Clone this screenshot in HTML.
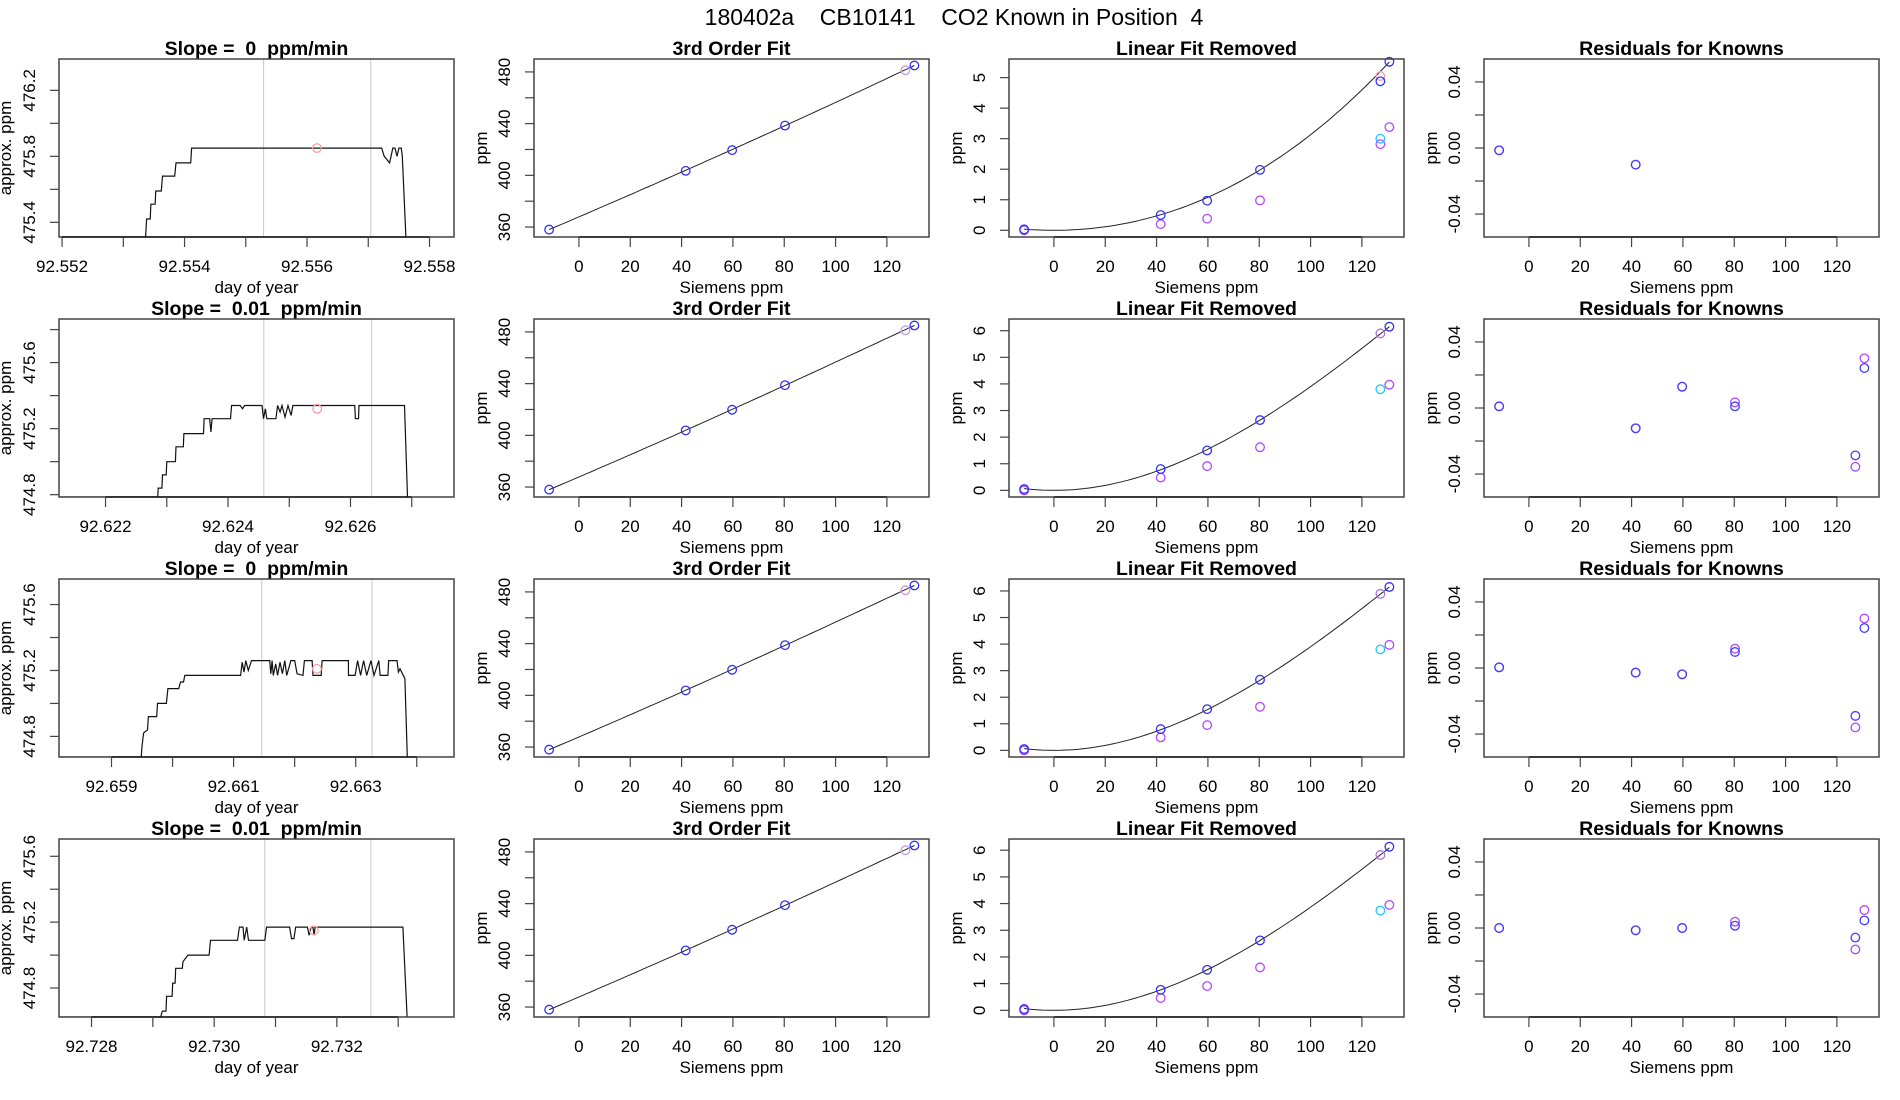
<!DOCTYPE html>
<html><head><meta charset="utf-8"><title>CO2 Known in Position 4</title>
<style>
html,body{margin:0;padding:0;background:#fff;}
svg{display:block;font-family:"Liberation Sans",Arial,sans-serif;}
text{white-space:pre;}
</style></head>
<body>
<svg id="fig" width="1900" height="1100" viewBox="0 0 1900 1100" xmlns="http://www.w3.org/2000/svg">
<rect width="1900" height="1100" fill="#fff"/>
<text x="954" y="25" font-size="23" text-anchor="middle" fill="#000">180402a    CB10141    CO2 Known in Position  4</text>
</svg>
<script>
// ---------- data ----------
const slopeLabels = ["0", "0.01", "0", "0.01"];
const timeBase = [92.552, 92.622, 92.659, 92.728];
const timeLim = [[92.55195, 92.5584], [92.62124, 92.62769], [92.65814, 92.66461], [92.72747, 92.73391]];
const timeTicks = [
  [92.552, 92.553, 92.554, 92.555, 92.556, 92.557, 92.558],
  [92.622, 92.623, 92.624, 92.625, 92.626, 92.627],
  [92.659, 92.660, 92.661, 92.662, 92.663, 92.664],
  [92.728, 92.729, 92.730, 92.731, 92.732, 92.733]];
const timeTickLabels = [
  ["92.552", "", "92.554", "", "92.556", "", "92.558"],
  ["92.622", "", "92.624", "", "92.626", ""],
  ["92.659", "", "92.661", "", "92.663", ""],
  ["92.728", "", "92.730", "", "92.732", ""]];
const concLim = [[475.311, 476.39], [474.786, 475.864], [474.675, 475.755], [474.624, 475.705]];
const concTicks = [
  [475.4, 475.6, 475.8, 476.0, 476.2],
  [474.8, 475.0, 475.2, 475.4, 475.6, 475.8],
  [474.8, 475.0, 475.2, 475.4, 475.6],
  [474.8, 475.0, 475.2, 475.4, 475.6]];
const concTickLabels = [
  ["475.4", "", "475.8", "", "476.2"],
  ["474.8", "", "475.2", "", "475.6", ""],
  ["474.8", "", "475.2", "", "475.6"],
  ["474.8", "", "475.2", "", "475.6"]];
// trace time offsets (1e-6 day from timeBase) and values
const traceT1 = [-200,1364,1380,1440,1450,1520,1530,1620,1640,1840,1860,2100,2116,5219,5260,5348,5400,5437,5470,5500,5540,5555,5614];
const traceV1 = [475.0,475.0,475.42,475.42,475.51,475.51,475.59,475.59,475.68,475.68,475.76,475.76,475.85,475.85,475.80,475.76,475.85,475.85,475.80,475.85,475.85,475.80,475.0];
const traceT2 = [-900,851,860,920,930,990,1000,1140,1150,1270,1280,1600,1610,1700,1720,1740,2040,2059,2200,2237,2270,2554,2580,2610,2634,2782,2810,2850,2881,2930,2980,3030,3060,4069,4080,4130,4139,4881,4931];
const traceV2 = [474.7,474.7,474.84,474.84,474.92,474.92,475.0,475.0,475.09,475.09,475.17,475.17,475.26,475.26,475.18,475.26,475.26,475.34,475.34,475.32,475.34,475.34,475.26,475.32,475.26,475.26,475.34,475.30,475.34,475.27,475.34,475.28,475.34,475.34,475.26,475.26,475.34,475.34,474.7];
const traceT3 = [-900,486,500,526,590,605,740,754,900,923,1100,1131,1180,1201,2114,2140,2170,2200,2240,2293,2591,2610,2630,2650,2690,2720,2760,2800,2839,2870,2938,3000,3040,3137,3160,3286,3300,3435,3450,3880,3882,3990,4031,4080,4130,4180,4250,4300,4378,4400,4527,4540,4676,4700,4725,4805,4845];
const traceV3 = [474.6,474.6,474.74,474.82,474.84,474.92,474.92,475.0,475.0,475.09,475.09,475.13,475.13,475.17,475.17,475.25,475.19,475.26,475.20,475.26,475.26,475.18,475.26,475.17,475.24,475.17,475.25,475.18,475.26,475.17,475.26,475.26,475.18,475.17,475.26,475.26,475.17,475.17,475.26,475.26,475.17,475.17,475.26,475.17,475.26,475.17,475.26,475.17,475.26,475.17,475.17,475.26,475.26,475.19,475.21,475.15,474.5];
const traceT4 = [-600,1127,1156,1215,1225,1314,1324,1363,1373,1480,1492,1571,1917,1940,2380,2411,2470,2490,2530,2559,2826,2855,3230,3260,3300,3329,3520,3547,3580,3610,3630,3645,5077,5146];
const traceV4 = [474.5,474.5,474.66,474.66,474.75,474.75,474.83,474.83,474.92,474.92,474.96,475.0,475.0,475.09,475.09,475.17,475.17,475.09,475.17,475.09,475.09,475.17,475.17,475.10,475.10,475.17,475.17,475.12,475.17,475.17,475.12,475.17,475.17,474.5];
const traceT = [traceT1, traceT2, traceT3, traceT4];
const traceV = [traceV1, traceV2, traceV3, traceV4];
const greyLineT = [[3291, 5041], [2584, 4346], [2461, 4267], [2826, 4555]];
const meanT = [4162, 3456, 3365, 3625];
const meanV = [475.85, 475.32, 475.21, 475.15];

// calibration data (Siemens ppm)
const sieX = [-11.6, 41.6, 59.7, 80.3, 127.2, 130.7];
const ppmY = [
  [358, 403.5, 419.5, 438.5, 481.3, 485],
  [358, 403.8, 419.8, 438.8, 481.3, 485],
  [358, 403.8, 419.8, 438.8, 481.3, 485],
  [358, 403.8, 419.8, 438.8, 481.3, 485]];
const linCoef = [[367.87, 0.854], [367.79, 0.8498], [367.79, 0.8498], [367.79, 0.8498]];
const curveCoef = [[0.000281, 3.19e-7], [0.000488, -9.79e-7], [0.000488, -9.79e-7], [0.000484, -9.75e-7]];
const ppmLim = [352.3, 490];
const ppmTicks = [360, 380, 400, 420, 440, 460, 480];
const ppmTickLabels = ["360", "", "400", "", "440", "", "480"];
const sieLim = [-17.5, 136.4];
const sieTicks = [0, 20, 40, 60, 80, 100, 120];

// linear fit removed
const lfrLim = [[-0.22, 5.61], [-0.25, 6.44], [-0.25, 6.45], [-0.25, 6.42]];
const lfrTicks = [[0, 1, 2, 3, 4, 5], [0, 1, 2, 3, 4, 5, 6], [0, 1, 2, 3, 4, 5, 6], [0, 1, 2, 3, 4, 5, 6]];
const lfrBlue = [[0.03, 0.5, 0.97, 1.98, 4.88, 5.52], [0.05, 0.8, 1.5, 2.64, null, 6.15], [0.05, 0.8, 1.55, 2.66, null, 6.15], [0.05, 0.77, 1.52, 2.62, null, 6.13]];
const lfrMag = [[0.0, 0.2, 0.38, 0.98, 2.82, 3.38], [0.0, 0.48, 0.91, 1.62, null, 3.97], [0.0, 0.49, 0.95, 1.64, null, 3.97], [0.0, 0.46, 0.91, 1.61, null, 3.95]];
const lfrLav = [5.05, 5.9, 5.89, 5.82];
const lfrCyan = [3.0, 3.8, 3.8, 3.74];

// residuals
const resLim = [-0.0539, 0.0539];
const resTicks = [-0.04, -0.02, 0, 0.02, 0.04];
const resTickLabels = ["-0.04", "", "0.00", "", "0.04"];
const resBlue = [[-0.0014, -0.0101, null, null, null, null],
  [0.001, -0.0123, 0.0129, 0.001, -0.0287, 0.0242],
  [0.0004, -0.0028, -0.0038, 0.0097, -0.029, 0.0242],
  [0.0, -0.0014, 0.0, 0.0014, -0.0058, 0.0046]];
const resMag = [[-0.0014, -0.0101, null, null, null, null],
  [0.001, -0.0123, 0.0129, 0.0034, -0.0356, 0.0301],
  [0.0004, -0.0028, -0.0038, 0.0117, -0.036, 0.030],
  [0.0, -0.0014, 0.0, 0.0038, -0.013, 0.0109]];

// ---------- drawing ----------
const NS = "http://www.w3.org/2000/svg";
const svg = document.getElementById("fig");
function mk(tag, attrs, parent) {
  const e = document.createElementNS(NS, tag);
  for (const k in attrs) e.setAttribute(k, attrs[k]);
  (parent || svg).appendChild(e);
  return e;
}
const BW = 395, BH = 178;
function scale(d0, d1, r0, r1) { return v => r0 + (v - d0) / (d1 - d0) * (r1 - r0); }

function panel(row, col, title, name) {
  const x0 = 59 + 475 * col, y0 = 59 + 260 * row;
  const g = mk("g", {});
  
  
  const t = mk("text", {x: x0 + BW / 2, y: y0 - 4, "font-size": 19.5, "font-weight": "bold", "text-anchor": "middle"}, g);
  t.textContent = title;
  
  
  const cp = mk("clipPath", {id: "cp" + row + "_" + col}, g);
  mk("rect", {x: x0, y: y0, width: BW, height: BH}, cp);
  return {g, x0, y0};
}
function frame(p) {
  const r = mk("rect", {x: p.x0, y: p.y0, width: BW, height: BH, fill: "none", stroke: "#444", "stroke-width": 1.5}, p.g);
  
  
}
function xAxis(p, ticks, labels, sx, xlabel) {
  const yb = p.y0 + BH;
  const ax = mk("g", {}, p.g);
  
  
  mk("line", {x1: sx(ticks[0]), x2: sx(ticks[ticks.length - 1]), y1: yb, y2: yb, stroke: "#000", "stroke-width": 1.2}, ax);
  ticks.forEach((v, i) => {
    const x = sx(v);
    mk("line", {x1: x, x2: x, y1: yb, y2: yb + 10, stroke: "#444", "stroke-width": 1.2}, ax);
    if (labels[i]) {
      const t = mk("text", {x: x, y: yb + 35, "font-size": 17, "text-anchor": "middle"}, ax);
      t.textContent = labels[i];
      
      
    }
  });
  const xl = mk("text", {x: p.x0 + BW / 2, y: yb + 56, "font-size": 17, "text-anchor": "middle"}, ax);
  xl.textContent = xlabel;
  
  
}
function yAxis(p, ticks, labels, sy, ylabel, labOff) {
  const ax = mk("g", {}, p.g);
  
  
  ticks.forEach((v, i) => {
    const y = sy(v);
    mk("line", {x1: p.x0 - 9, x2: p.x0, y1: y, y2: y, stroke: "#444", "stroke-width": 1.2}, ax);
    if (labels[i]) {
      const tx = p.x0 - 24;
      const t = mk("text", {x: tx, y: y, "font-size": 17, "text-anchor": "middle", transform: `rotate(-90 ${tx} ${y})`}, ax);
      t.textContent = labels[i];
      
      
    }
  });
  const lx = p.x0 - labOff, ly = p.y0 + BH / 2;
  const yl = mk("text", {x: lx, y: ly, "font-size": 17, "text-anchor": "middle", transform: `rotate(-90 ${lx} ${ly})`}, ax);
  yl.textContent = ylabel;
  
  
}
function circ(p, x, y, color, name) {
  const c = mk("circle", {cx: x, cy: y, r: 4.3, fill: "none", stroke: color, "stroke-width": 1.3}, p.g);
  
  
}

for (let r = 0; r < 4; r++) {
  // ---- col 1: time series ----
  {
    const p = panel(r, 0, "Slope =  " + slopeLabels[r] + "  ppm/min", "slope");
    const sx = scale(timeLim[r][0], timeLim[r][1], p.x0, p.x0 + BW);
    const sy = scale(concLim[r][0], concLim[r][1], p.y0 + BH, p.y0);
    const tx = o => sx(timeBase[r] + o * 1e-6);
    const cg = mk("g", {"clip-path": `url(#cp${r}_0)`}, p.g);
    greyLineT[r].forEach(o => {
      const l = mk("line", {x1: tx(o), x2: tx(o), y1: p.y0, y2: p.y0 + BH, stroke: "#c8c8c8", "stroke-width": 1}, cg);
      
      
    });
    const ylo = concLim[r][0];
    const pts = traceT[r].map((o, i) => tx(o).toFixed(1) + "," + sy(Math.max(traceV[r][i], ylo)).toFixed(1)).join(" ");
    const pl = mk("polyline", {points: pts, fill: "none", stroke: "#111", "stroke-width": 1.2}, cg);
    
    
    circ({g: cg}, tx(meanT[r]), sy(meanV[r]), "#f4a0a8", "mean-point");
    frame(p);
    xAxis(p, timeTicks[r], timeTickLabels[r], sx, "day of year");
    yAxis(p, concTicks[r], concTickLabels[r], sy, "approx. ppm", 48);
  }
  // ---- col 2: 3rd order fit ----
  {
    const p = panel(r, 1, "3rd Order Fit", "third-order-fit");
    const sx = scale(sieLim[0], sieLim[1], p.x0, p.x0 + BW);
    const sy = scale(ppmLim[0], ppmLim[1], p.y0 + BH, p.y0);
    const f = x => linCoef[r][0] + linCoef[r][1] * x + curveCoef[r][0] * x * x + curveCoef[r][1] * x * x * x;
    const pts = [];
    for (let i = 0; i <= 60; i++) { const x = sieX[0] + (sieX[5] - sieX[0]) * i / 60; pts.push(sx(x).toFixed(1) + "," + sy(f(x)).toFixed(1)); }
    const pl = mk("polyline", {points: pts.join(" "), fill: "none", stroke: "#222", "stroke-width": 1}, p.g);
    
    
    sieX.forEach((x, i) => circ(p, sx(x), sy(ppmY[r][i]), i === 4 ? "#c39be0" : "#3030ff", "calibration-point"));
    frame(p);
    xAxis(p, sieTicks, sieTicks.map(String), sx, "Siemens ppm");
    yAxis(p, ppmTicks, ppmTickLabels, sy, "ppm", 47);
  }
  // ---- col 3: linear fit removed ----
  {
    const p = panel(r, 2, "Linear Fit Removed", "linear-fit-removed");
    const sx = scale(sieLim[0], sieLim[1], p.x0, p.x0 + BW);
    const sy = scale(lfrLim[r][0], lfrLim[r][1], p.y0 + BH, p.y0);
    const f = x => curveCoef[r][0] * x * x + curveCoef[r][1] * x * x * x;
    const pts = [];
    for (let i = 0; i <= 60; i++) { const x = sieX[0] + (sieX[5] - sieX[0]) * i / 60; pts.push(sx(x).toFixed(1) + "," + sy(f(x)).toFixed(1)); }
    const pl = mk("polyline", {points: pts.join(" "), fill: "none", stroke: "#222", "stroke-width": 1}, p.g);
    
    
    sieX.forEach((x, i) => { if (lfrMag[r][i] !== null) circ(p, sx(x), sy(lfrMag[r][i]), "#b048ff", "removed-point-magenta"); });
    circ(p, sx(sieX[4]), sy(lfrCyan[r]), "#20c8ff", "removed-point-cyan");
    circ(p, sx(sieX[4]), sy(lfrLav[r]), r === 0 ? "#f0a0b0" : "#b070e0", "removed-point-lavender");
    sieX.forEach((x, i) => { if (lfrBlue[r][i] !== null) circ(p, sx(x), sy(lfrBlue[r][i]), "#3030ff", "removed-point-blue"); });
    frame(p);
    xAxis(p, sieTicks, sieTicks.map(String), sx, "Siemens ppm");
    yAxis(p, lfrTicks[r], lfrTicks[r].map(String), sy, "ppm", 47);
  }
  // ---- col 4: residuals ----
  {
    const p = panel(r, 3, "Residuals for Knowns", "residuals");
    const sx = scale(sieLim[0], sieLim[1], p.x0, p.x0 + BW);
    const sy = scale(resLim[0], resLim[1], p.y0 + BH, p.y0);
    sieX.forEach((x, i) => { if (resMag[r][i] !== null) circ(p, sx(x), sy(resMag[r][i]), "#b048ff", "residual-point-magenta"); });
    sieX.forEach((x, i) => { if (resBlue[r][i] !== null) circ(p, sx(x), sy(resBlue[r][i]), "#4040ff", "residual-point-blue"); });
    frame(p);
    xAxis(p, sieTicks, sieTicks.map(String), sx, "Siemens ppm");
    yAxis(p, resTicks, resTickLabels, sy, "ppm", 47);
  }
}
</script>
</body></html>
